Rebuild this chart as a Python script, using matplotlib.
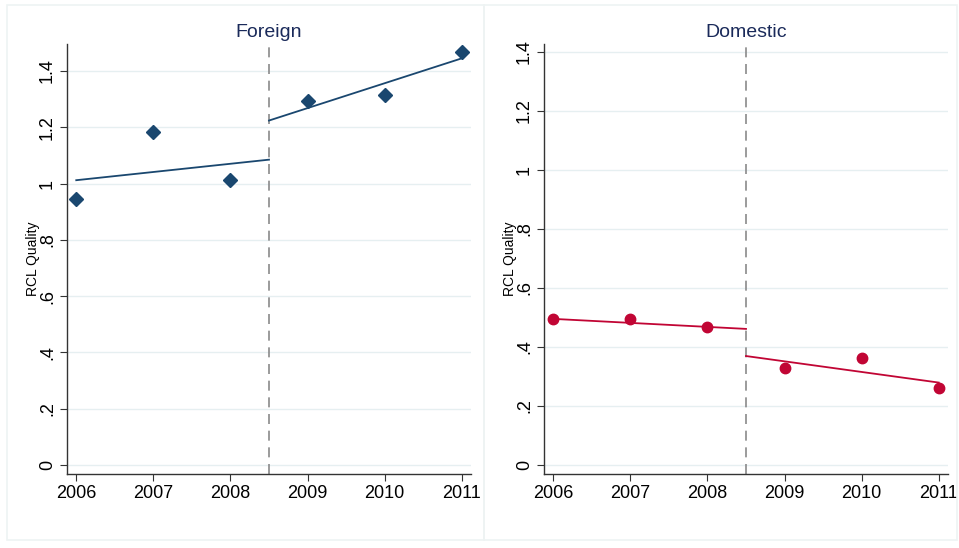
import matplotlib.pyplot as plt
from matplotlib.patches import Rectangle

plt.rcParams['font.family'] = ['Liberation Sans', 'DejaVu Sans']

years = [2006, 2007, 2008, 2009, 2010, 2011]
cutoff = 2008.5

# yearly means
foreign = [0.945, 1.182, 1.013, 1.293, 1.314, 1.469]
domestic = [0.495, 0.495, 0.468, 0.330, 0.362, 0.262]

# fitted segments (before / after the cutoff)
fit_x_pre = [2006, 2008.5]
fit_x_post = [2008.5, 2011]
foreign_fit_pre = [1.012, 1.085]
foreign_fit_post = [1.224, 1.445]
domestic_fit_pre = [0.495, 0.461]
domestic_fit_post = [0.369, 0.279]

yticks = [0, 0.2, 0.4, 0.6, 0.8, 1.0, 1.2, 1.4]
ytick_labels = ['0', '.2', '.4', '.6', '.8', '1', '1.2', '1.4']

W, H = 959, 548
fig = plt.figure(figsize=(W / 100, H / 100), dpi=100)
fig.patch.set_facecolor('white')

# faint panel frames
frame_col = '#eef3f3'
for x0, x1 in [(7, 484), (484, 957)]:
    fig.patches.append(Rectangle((x0 / W, 1 - 540 / H), (x1 - x0) / W, (540 - 5) / H,
                                 transform=fig.transFigure, fill=False,
                                 edgecolor=frame_col, lw=1.2))


def panel(left_px, right_px, ylim, title, vals, pre, post, color, marker, ms):
    width_px = right_px - left_px
    ax = fig.add_axes([left_px / W, 1 - 474 / H, width_px / W, (474 - 44) / H])
    ax.set_xlim(2005.88, 2011.12)
    ax.set_ylim(*ylim)
    for s in ['top', 'right']:
        ax.spines[s].set_visible(False)
    for s in ['left', 'bottom']:
        ax.spines[s].set_color('#333333')
        ax.spines[s].set_linewidth(1.0)
    ax.set_yticks(yticks)
    ax.set_yticklabels(ytick_labels, rotation=90, va='center', fontsize=13)
    ax.set_xticks(years)
    ax.set_xticklabels([str(y) for y in years], fontsize=13)
    ax.tick_params(length=5, width=0.8, color='#333333', pad=3)
    ax.grid(axis='y', color='#e6eff1', lw=1.0)
    ax.set_axisbelow(True)
    ax.axvline(cutoff, color='#8a8a8a', lw=1.2, ls=(0, (6, 4)))
    ax.plot(fit_x_pre, pre, color=color, lw=1.3)
    ax.plot(fit_x_post, post, color=color, lw=1.3)
    ax.plot(years, vals, ls='none', marker=marker, ms=ms, color=color)
    ax.set_ylabel('RCL Quality', fontsize=10)
    ax.yaxis.set_label_coords(-27 / width_px, 0.5)
    ax.set_title(title, fontsize=14, color='#1a2a5a', pad=5)
    return ax


panel(67, 471, (-0.032, 1.496), 'Foreign', foreign,
      foreign_fit_pre, foreign_fit_post, '#1a476f', 'D', 7.5)
panel(544, 948, (-0.031, 1.427), 'Domestic', domestic,
      domestic_fit_pre, domestic_fit_post, '#c10534', 'o', 7.5)

fig.savefig('out.png', dpi=100)
